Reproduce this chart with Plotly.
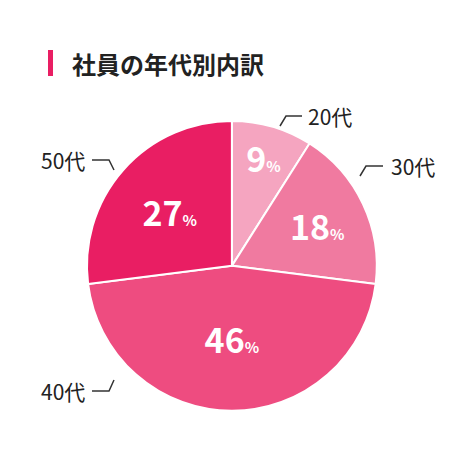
import plotly.graph_objects as go

labels = ["20代", "30代", "40代", "50代"]
values = [9, 18, 46, 27]
colors = ["#f5a5c0", "#f07aa0", "#ee4c80", "#e91e63"]
title = "社員の年代別内訳"

font = "Noto Sans CJK JP"
fig = go.Figure(go.Pie(
    labels=labels, values=values, sort=False, direction="clockwise", rotation=0,
    marker=dict(colors=colors, line=dict(color="white", width=2)),
    texttemplate="<b>%{value}<span style='font-size:15px'>%</span></b>",
    textposition="inside", insidetextorientation="horizontal",
    textfont=dict(family=font, size=34, color="white"),
    domain=dict(x=[0.17, 0.795], y=[0.105, 0.749]),
    showlegend=False, hoverinfo="skip"))

W, H = 464, 450
def px(x, y):
    return x / W, 1 - y / H

lab_pos = [(322, 108), (405, 158), (55, 383), (55, 152)]
lines = [[(294, 108), (278, 108), (272, 118)],
         [(375, 158), (358, 158), (352, 168)],
         [(84, 383), (101, 383), (106, 372)],
         [(84, 152), (101, 152), (106, 162)]]
for (x, y), lab in zip(lab_pos, labels):
    ax, ay = px(x, y)
    fig.add_annotation(x=ax, y=ay, xref="paper", yref="paper", text=lab, showarrow=False,
                       xanchor="center", yanchor="middle",
                       font=dict(family=font, size=21, color="#222"))
for pts in lines:
    path = "M " + " L ".join(f"{px(x,y)[0]},{px(x,y)[1]}" for x, y in pts)
    fig.add_shape(type="path", path=path, xref="paper", yref="paper",
                  line=dict(color="#333", width=1.5))

fig.add_shape(type="rect", xref="paper", yref="paper",
              x0=40/W, x1=45/W, y0=1-68/H, y1=1-42/H, fillcolor="#e91e63", line_width=0)
fig.add_annotation(x=62/W, y=1-55/H, xref="paper", yref="paper", text="<b>"+title+"</b>",
                   showarrow=False, xanchor="left", yanchor="middle",
                   font=dict(family=font, size=24, color="#222"))

fig.update_layout(width=W, height=H, margin=dict(l=0, r=0, t=0, b=0),
                  paper_bgcolor="white", plot_bgcolor="white")
fig.write_html("out.html")
